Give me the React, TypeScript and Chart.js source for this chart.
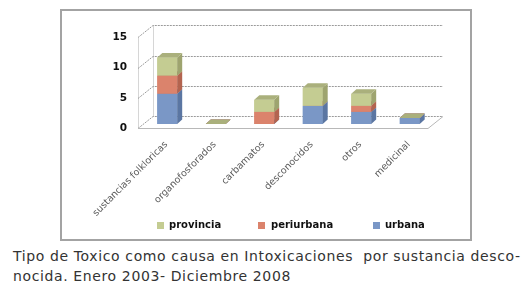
import React, { useEffect, useRef } from "react";
import { Chart, registerables } from "chart.js";

Chart.register(...registerables);

const categories = [
  "sustancias folkloricas",
  "organofosforados",
  "carbamatos",
  "desconocidos",
  "otros",
  "medicinal",
];
const urbana = [5, 0, 0, 3, 2, 1];
const periurbana = [3, 0, 2, 0, 1, 0];
const provincia = [3, 0, 2, 3, 2, 0];
const yTicks = [0, 5, 10, 15];
const captionLines = [
  "Tipo de Toxico como causa en Intoxicaciones  por sustancia desco-",
  "nocida. Enero 2003- Diciembre 2008",
];

const COLORS = {
  urbana: { front: "#7a97c6", side: "#5b76a2", top: "#6d88b6" },
  periurbana: { front: "#db836c", side: "#b3644f", top: "#c5735e" },
  provincia: { front: "#c4cc92", side: "#9ea46f", top: "#aab07c" },
};

const DX = 5;
const DY = 4.5;

const threeDPlugin = {
  id: "threeD",
  beforeDatasetsDraw(chart: any) {
    const ctx = chart.ctx;
    const ys = chart.scales.y;
    const { left, right } = chart.chartArea;
    const FX = left - 5;
    const BX = left + 10;
    const FR = right - 6;
    const BR = right + 9;
    ctx.save();
    ctx.lineWidth = 1;
    ctx.strokeStyle = "#d6d6d6";
    const yTop = ys.getPixelForValue(yTicks[yTicks.length - 1]);
    const yZero = ys.getPixelForValue(0);
    ctx.beginPath();
    ctx.moveTo(FX + 0.5, Math.round(yTop + 4) + 0.5);
    ctx.lineTo(FX + 0.5, Math.round(yZero + 4) + 0.5);
    ctx.moveTo(BX + 0.5, Math.round(yTop - 8) + 0.5);
    ctx.lineTo(BX + 0.5, Math.round(yZero - 8) + 0.5);
    ctx.stroke();
    ctx.strokeStyle = "#9a9a9a";
    ctx.setLineDash([2, 1]);
    yTicks.forEach((v) => {
      const yp = ys.getPixelForValue(v);
      const front = Math.round(yp + 4) + 0.5;
      const back = Math.round(yp - 8) + 0.5;
      ctx.beginPath();
      ctx.moveTo(FX, front);
      ctx.lineTo(BX, back);
      ctx.lineTo(BR, back);
      ctx.stroke();
    });
    ctx.setLineDash([]);
    ctx.strokeStyle = "#b8b8b8";
    const f0 = Math.round(yZero + 4) + 0.5;
    const b0 = Math.round(yZero - 8) + 0.5;
    ctx.beginPath();
    ctx.moveTo(FX, f0);
    ctx.lineTo(FR, f0);
    ctx.lineTo(BR, b0);
    ctx.stroke();
    ctx.restore();
  },
  afterDatasetsDraw(chart: any) {
    const ctx = chart.ctx;
    ctx.save();
    chart.data.datasets.forEach((ds: any, di: number) => {
      const meta = chart.getDatasetMeta(di);
      const c = ds._faces;
      meta.data.forEach((el: any) => {
        const { x, y, base, width } = el.getProps(["x", "y", "base", "width"], true);
        const l = x - width / 2;
        const r = x + width / 2;
        const top = Math.min(y, base);
        const bottom = Math.max(y, base);
        if (bottom - top > 0.1) {
          ctx.fillStyle = c.front;
          ctx.fillRect(l, top, width, bottom - top);
          ctx.fillStyle = c.side;
          ctx.beginPath();
          ctx.moveTo(r, top);
          ctx.lineTo(r + DX, top - DY);
          ctx.lineTo(r + DX, bottom - DY);
          ctx.lineTo(r, bottom);
          ctx.closePath();
          ctx.fill();
        }
        ctx.fillStyle = c.top;
        ctx.beginPath();
        ctx.moveTo(l, top);
        ctx.lineTo(l + DX, top - DY);
        ctx.lineTo(r + DX, top - DY);
        ctx.lineTo(r, top);
        ctx.closePath();
        ctx.fill();
      });
    });
    ctx.restore();
  },
};

export default function App() {
  const ref = useRef<HTMLCanvasElement>(null);

  useEffect(() => {
    document.body.style.margin = "0";
    const chart = new Chart(ref.current as HTMLCanvasElement, {
      type: "bar",
      data: {
        labels: categories,
        datasets: [
          { label: "urbana", data: urbana, backgroundColor: COLORS.urbana.front, _faces: COLORS.urbana } as any,
          { label: "periurbana", data: periurbana, backgroundColor: COLORS.periurbana.front, _faces: COLORS.periurbana } as any,
          { label: "provincia", data: provincia, backgroundColor: COLORS.provincia.front, _faces: COLORS.provincia } as any,
        ],
      },
      options: {
        animation: false,
        responsive: false,
        maintainAspectRatio: false,
        layout: { padding: { left: 0, right: 36, top: 19, bottom: 0 } },
        datasets: { bar: { categoryPercentage: 1, barPercentage: 0.41 } },
        plugins: { legend: { display: false }, tooltip: { enabled: false } },
        scales: {
          x: {
            stacked: true,
            grid: { display: false, drawTicks: false, tickLength: 0 },
            border: { display: false },
            ticks: {
              autoSkip: false,
              minRotation: 45,
              maxRotation: 45,
              padding: 15,
              labelOffset: -1,
              color: "#5a5a5a",
              font: { family: "DejaVu Sans", size: 9.5 },
            },
            afterFit: (s: any) => {
              s.height = 115;
            },
          },
          y: {
            stacked: true,
            min: 0,
            max: 15,
            grid: { display: false, drawTicks: false, tickLength: 0 },
            border: { display: false },
            ticks: {
              stepSize: 5,
              padding: 16,
              labelOffset: 4,
              color: "#111",
              font: { family: "DejaVu Sans", size: 10.5, weight: "bold" },
            },
            afterFit: (s: any) => {
              s.width = 81;
            },
          },
        },
      },
      plugins: [threeDPlugin],
    });
    return () => chart.destroy();
  }, []);

  const legendItems = [
    { label: "provincia", color: COLORS.provincia.front, box: 157, text: 169 },
    { label: "periurbana", color: COLORS.periurbana.front, box: 258, text: 271 },
    { label: "urbana", color: COLORS.urbana.front, box: 373, text: 385 },
  ];

  return (
    <div style={{ position: "relative", width: 532, height: 287, background: "#fff", overflow: "hidden" }}>
      <div
        style={{
          position: "absolute",
          left: 60,
          top: 9,
          width: 408,
          height: 228,
          border: "2px solid #a3a3a3",
        }}
      />
      <canvas
        ref={ref}
        width={408}
        height={228}
        style={{ position: "absolute", left: 62, top: 11, width: 408, height: 228 }}
      />
      {legendItems.map((it) => (
        <React.Fragment key={it.label}>
          <div
            style={{
              position: "absolute",
              left: it.box,
              top: 222,
              width: 7,
              height: 7,
              background: it.color,
            }}
          />
          <div
            style={{
              position: "absolute",
              left: it.text,
              top: 218,
              font: "bold 10px 'DejaVu Sans'",
              lineHeight: "14px",
              color: "#111",
              whiteSpace: "pre",
            }}
          >
            {it.label}
          </div>
        </React.Fragment>
      ))}
      <div
        style={{
          position: "absolute",
          left: 13,
          top: 246,
          font: "14px 'DejaVu Sans'",
          lineHeight: "20px",
          color: "#333",
          letterSpacing: "0.62px",
          whiteSpace: "pre",
        }}
      >
        {captionLines.map((l, i) => (
          <div key={i}>{l}</div>
        ))}
      </div>
    </div>
  );
}
